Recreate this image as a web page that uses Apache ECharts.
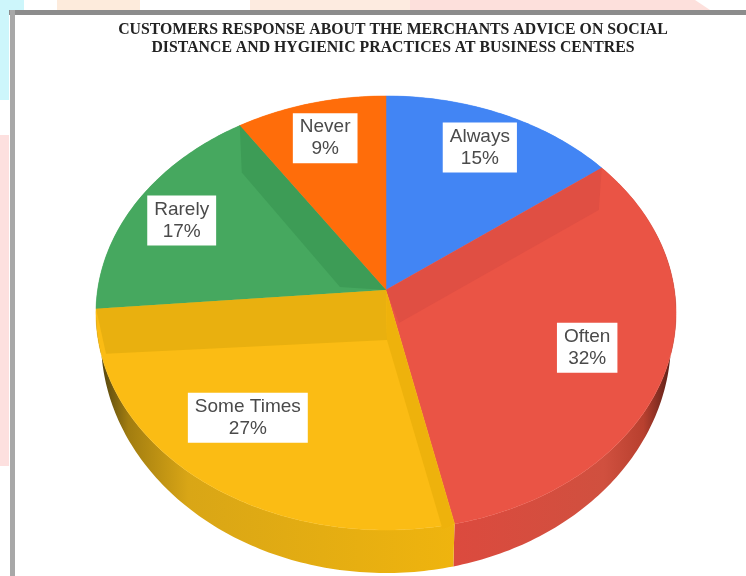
<!DOCTYPE html>
<html>
<head>
<meta charset="utf-8">
<style>html,body{margin:0;padding:0;background:#fff}#chart{width:746px;height:576px}</style>
<script src="https://cdn.jsdelivr.net/npm/echarts@6/dist/echarts.min.js"></script>
</head>
<body>
<div id="chart"></div>
<script>
// Survey answers, in percent, clockwise from twelve o'clock
const categories = ['Always', 'Often', 'Some Times', 'Rarely', 'Never'];
const shares = [15, 32, 27, 17, 9];
const faceColors = ['#4285f4', '#ea5445', '#fbbc14', '#46a85f', '#ff6d0a'];
const titleLines = [
  'CUSTOMERS RESPONSE ABOUT THE MERCHANTS ADVICE ON SOCIAL',
  'DISTANCE AND HYGIENIC PRACTICES AT BUSINESS CENTRES'
];

// Callout placement: how far along the radius, then a small pixel nudge
const labelReach = [0.8, 0.72, 0.7, 0.82, 0.8];
const labelNudge = [[0, 1], [1, 3], [-11, -1], [1, 4], [2, 0]];

// Tilted disc: a unit circle seen in perspective
const TILT = -0.106;
const LENS_DEG = 1.5;
const topDisc = { x: 386, y: 290, a: 288.4, b: 214.6 };
const baseDisc = { x: 386, y: 315.3, a: 283.4, b: 230.4 };

const total = shares.reduce((s, v) => s + v, 0);
const starts = shares.map((_, i) => shares.slice(0, i).reduce((s, v) => s + v, 0) / total);
const ends = shares.map((_, i) => starts[i] + shares[i] / total);

function project(disc, fraction, r) {
  // Slight angular drift of the camera lens, zero at twelve o'clock
  const deg = fraction * 360 - LENS_DEG * Math.pow(Math.sin(Math.PI * fraction), 0.25);
  const t = deg * Math.PI / 180;
  const u = r * Math.sin(t), v = -r * Math.cos(t);
  const d = 1 + TILT * v;
  return [disc.x + disc.a * u / d, disc.y + disc.b * v / d];
}

function arc(disc, from, to) {
  const pts = [];
  const n = Math.max(4, Math.ceil((to - from) * 400));
  for (let i = 0; i <= n; i++) pts.push(project(disc, from + (to - from) * i / n, 1));
  return pts;
}

// Inner wall bands: each hangs off one cut edge of a slice
const wallBands = [
  { slice: 1, edge: 'start', rim: [-3, 42], hub: [13, 33], color: '#e04f43' },
  { slice: 2, edge: 'end', rim: [10, 45], hub: [1, 50], color: '#e9b00f' },
  { slice: 2, edge: 'start', rim: [-12, 5], hub: [1, 50], color: '#eeb20c' },
  { slice: 3, edge: 'end', rim: [2, 47], hub: [-46, -3], color: '#3d9c56' }
];

const rimFills = [
  null,
  new echarts.graphic.LinearGradient(450, 0, 670, 0, [
    { offset: 0, color: '#dc4a3e' }, { offset: 0.7, color: '#d0503f' },
    { offset: 0.88, color: '#b8402f' }, { offset: 1, color: '#5e2018' }
  ], true),
  new echarts.graphic.LinearGradient(100, 0, 455, 0, [
    { offset: 0, color: '#4f4210' }, { offset: 0.08, color: '#a27d10' },
    { offset: 0.25, color: '#d9a616' }, { offset: 1, color: '#efb40e' }
  ], true),
  null,
  null
];

const option = {
  animation: false,
  backgroundColor: '#ffffff',
  title: {
    text: titleLines.join('\n'),
    left: 388,
    top: 16,
    textAlign: 'center',
    textStyle: {
      fontFamily: '"Liberation Serif", serif',
      fontWeight: 'bold',
      fontSize: 15.8,
      lineHeight: 18,
      color: '#222222'
    }
  },
  graphic: [
    { type: 'rect', z: 0, shape: { x: 0, y: 0, width: 24, height: 10 }, style: { fill: '#cdf6fb' } },
    { type: 'rect', z: 0, shape: { x: 0, y: 10, width: 9, height: 90 }, style: { fill: '#cdf6fb' } },
    { type: 'rect', z: 0, shape: { x: 0, y: 135, width: 9, height: 331 }, style: { fill: '#fde0df' } },
    { type: 'rect', z: 0, shape: { x: 57, y: 0, width: 83, height: 10 }, style: { fill: '#fdebdc' } },
    { type: 'rect', z: 0, shape: { x: 250, y: 0, width: 160, height: 10 }, style: { fill: '#fdebe0' } },
    { type: 'polygon', z: 0, shape: { points: [[410, 0], [695, 0], [710, 10], [410, 10]] }, style: { fill: '#fde0dc' } },
    { type: 'rect', z: 1, shape: { x: 9, y: 10, width: 737, height: 5 }, style: { fill: '#8c8c8c' } },
    { type: 'rect', z: 1, shape: { x: 10, y: 10, width: 5, height: 566 }, style: { fill: '#a8a8a8' } }
  ],
  series: [
    {
      // Outer side of the disc, only the near part shows below the faces
      type: 'custom',
      coordinateSystem: 'none',
      z: 2,
      data: shares,
      renderItem(params) {
        const i = params.dataIndex;
        const points = arc(topDisc, starts[i], ends[i]).concat(arc(baseDisc, starts[i], ends[i]).reverse());
        return {
          type: 'polygon',
          shape: { points },
          style: { fill: rimFills[i] || faceColors[i] }
        };
      }
    },
    {
      // Top faces
      type: 'custom',
      coordinateSystem: 'none',
      z: 3,
      data: shares,
      renderItem(params) {
        const i = params.dataIndex;
        return {
          type: 'polygon',
          shape: { points: [[topDisc.x, topDisc.y]].concat(arc(topDisc, starts[i], ends[i])) },
          style: { fill: faceColors[i], stroke: faceColors[i], lineWidth: 0.5 }
        };
      }
    },
    {
      // Darker bands along the cut edges
      type: 'custom',
      coordinateSystem: 'none',
      z: 4,
      data: wallBands.map((_, i) => i),
      renderItem(params) {
        const w = wallBands[params.dataIndex];
        const f = w.edge === 'start' ? starts[w.slice] : ends[w.slice];
        const p = project(topDisc, f, 1);
        return {
          type: 'polygon',
          shape: {
            points: [
              [topDisc.x, topDisc.y], p,
              [p[0] + w.rim[0], p[1] + w.rim[1]],
              [topDisc.x + w.hub[0], topDisc.y + w.hub[1]]
            ]
          },
          style: { fill: w.color }
        };
      }
    },
    {
      // White callouts with name and share
      type: 'custom',
      coordinateSystem: 'none',
      z: 5,
      data: shares,
      renderItem(params) {
        const i = params.dataIndex;
        const p = project(topDisc, (starts[i] + ends[i]) / 2, labelReach[i]);
        return {
          type: 'text',
          x: p[0] + labelNudge[i][0],
          y: p[1] + labelNudge[i][1],
          style: {
            text: categories[i] + '\n' + shares[i] + '%',
            align: 'center',
            verticalAlign: 'middle',
            fontFamily: '"Liberation Sans", Arial, sans-serif',
            fontSize: 19,
            lineHeight: 22,
            fill: '#4a4a4a',
            backgroundColor: '#ffffff',
            padding: [3, 7, 3, 7]
          }
        };
      }
    }
  ]
};

const chart = echarts.init(document.getElementById('chart'), null, { renderer: 'canvas' });
chart.setOption(option);
</script>
</body>
</html>
